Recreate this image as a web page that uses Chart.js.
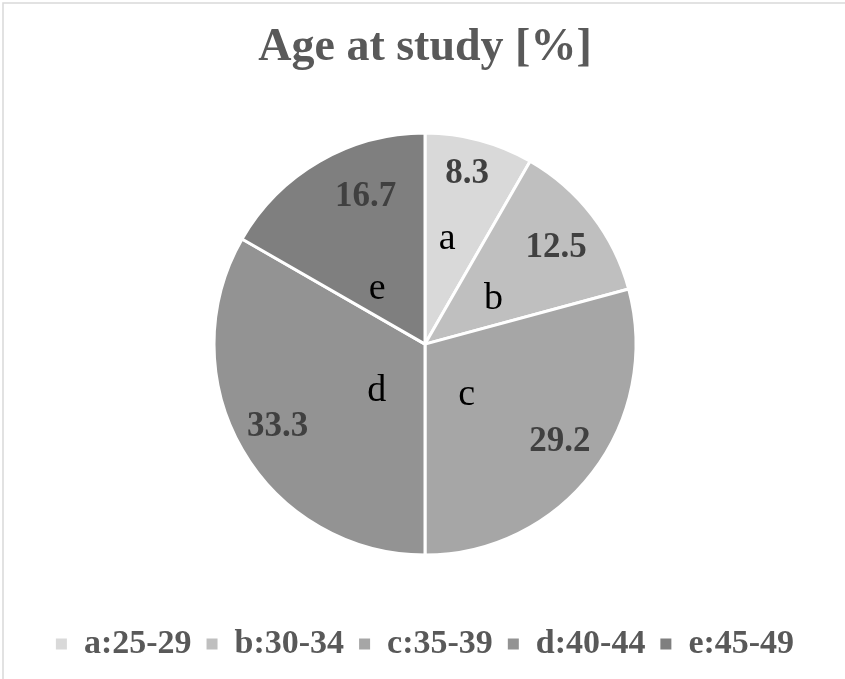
<!DOCTYPE html>
<html>
<head>
<meta charset="utf-8">
<script src="https://cdn.jsdelivr.net/npm/chart.js@4.4.0/dist/chart.umd.min.js"></script>
<style>
  html, body { margin: 0; padding: 0; background: #fff; }
  #wrap { width: 845px; height: 679px; }
</style>
</head>
<body>
<div id="wrap"><canvas id="grafico" width="845" height="679"></canvas></div>
<script>
// dados do gráfico
const categorias = ['a:25-29', 'b:30-34', 'c:35-39', 'd:40-44', 'e:45-49'];
const letras = ['a', 'b', 'c', 'd', 'e'];
const valores = [8.3, 12.5, 29.2, 33.3, 16.7];
const cores = ['#d9d9d9', '#bfbfbf', '#a6a6a6', '#939393', '#7f7f7f'];

// posição dos rótulos: [desvio do ângulo médio em graus, fração do raio]
const posValor = [[-1, 0.83], [1.4, 0.77], [-1.5, 0.79], [0.8, 0.80], [8, 0.75]];
const posLetra = [[-3, 0.51], [4, 0.39], [13, 0.31], [-14.4, 0.32], [-11, 0.345]];

const fonte = "'Liberation Serif', 'Times New Roman', serif";

// moldura cinza clara (só em cima e à esquerda, como no original)
const moldura = {
    id: 'moldura',
    beforeDraw(chart) {
        const ctx = chart.ctx;
        ctx.save();
        ctx.strokeStyle = '#d9d9d9';
        ctx.lineWidth = 1.5;
        ctx.beginPath();
        ctx.moveTo(3, chart.height);
        ctx.lineTo(3, 3);
        ctx.lineTo(chart.width, 3);
        ctx.stroke();
        ctx.restore();
    }
};

// rótulos de valor e letra dentro das fatias
const rotulos = {
    id: 'rotulos',
    afterDatasetsDraw(chart) {
        const ctx = chart.ctx;
        const arcos = chart.getDatasetMeta(0).data;
        ctx.save();
        ctx.textAlign = 'center';
        ctx.textBaseline = 'middle';
        arcos.forEach((arco, i) => {
            const p = arco.getProps(['x', 'y', 'startAngle', 'endAngle', 'outerRadius'], true);
            const meio = (p.startAngle + p.endAngle) / 2;

            let a = meio + posValor[i][0] * Math.PI / 180;
            let r = p.outerRadius * posValor[i][1];
            ctx.font = 'bold 35px ' + fonte;
            ctx.fillStyle = '#404040';
            ctx.fillText(valores[i].toFixed(1), p.x + r * Math.cos(a), p.y + r * Math.sin(a));

            a = meio + posLetra[i][0] * Math.PI / 180;
            r = p.outerRadius * posLetra[i][1];
            ctx.font = '38px ' + fonte;
            ctx.fillStyle = '#000000';
            ctx.fillText(letras[i], p.x + r * Math.cos(a), p.y + r * Math.sin(a));
        });
        ctx.restore();
    }
};

const ctx = document.getElementById('grafico').getContext('2d');
const grafico = new Chart(ctx, {
    type: 'pie',
    data: {
        labels: categorias,
        datasets: [{
            data: valores,
            backgroundColor: cores,
            borderColor: '#ffffff',
            borderWidth: 3,
            radius: 211
        }]
    },
    options: {
        responsive: false,
        animation: false,
        events: [],
        layout: { padding: { top: 0, bottom: 8, left: 5, right: 0 } },
        plugins: {
            title: {
                display: true,
                text: 'Age at study [%]',
                color: '#595959',
                font: { family: fonte, size: 46, weight: 'bold' },
                padding: { top: 21, bottom: 0 }
            },
            legend: {
                position: 'bottom',
                labels: {
                    color: '#595959',
                    font: { family: fonte, size: 34, weight: 'bold' },
                    boxWidth: 11,
                    boxHeight: 11,
                    padding: 15,
                    generateLabels(chart) {
                        const itens = Chart.overrides.pie.plugins.legend.labels.generateLabels(chart);
                        itens.forEach(item => {
                            item.lineWidth = 0;
                            item.strokeStyle = item.fillStyle;
                        });
                        return itens;
                    }
                }
            },
            tooltip: { enabled: false }
        }
    },
    plugins: [moldura, rotulos]
});
</script>
</body>
</html>
